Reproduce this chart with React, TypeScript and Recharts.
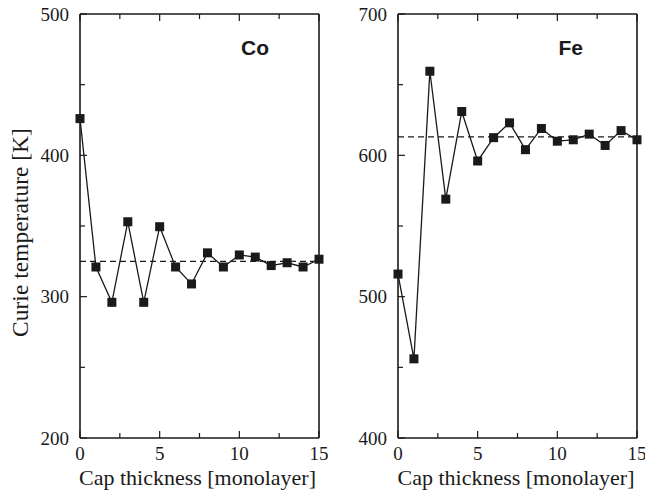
import React from "react";
import { LineChart, Line, XAxis, YAxis, ReferenceLine } from "recharts";

const thickness = [0, 1, 2, 3, 4, 5, 6, 7, 8, 9, 10, 11, 12, 13, 14, 15];
const coTc = [426, 321, 296, 353, 296, 349.5, 321, 309, 331, 321, 329.5, 328, 322, 324, 321, 326.5];
const feTc = [516, 456, 659.5, 569, 631, 596, 612.5, 623, 604, 619, 610, 611, 615, 607, 617.5, 611];
const coBulk = 325;
const feBulk = 613;

const xTicks = [0, 2.5, 5, 7.5, 10, 12.5, 15];
const xLabels = [0, 5, 10, 15];
const coTicks = [200, 250, 300, 350, 400, 450, 500];
const coLabels = [200, 300, 400, 500];
const feTicks = [400, 450, 500, 550, 600, 650, 700];
const feLabels = [400, 500, 600, 700];

const xTitle = "Cap thickness [monolayer]";
const yTitle = "Curie temperature [K]";

const INK = "#1a1a1a";
const SERIF = "'Liberation Serif', 'DejaVu Serif', serif";
const SANS = "'Liberation Sans', Arial, sans-serif";

const makeBottomTick = (labels: number[]) => (props: any) => {
  const { x, y, payload } = props;
  const v = payload.value;
  const major = labels.includes(v);
  return (
    <g>
      <line x1={x} x2={x} y1={y} y2={y - (major ? 7 : 5)} stroke={INK} strokeWidth={1.2} />
      {major && (
        <text x={x} y={y + 22} textAnchor="middle" fontFamily={SERIF} fontSize={19} fill={INK}>
          {v}
        </text>
      )}
    </g>
  );
};

const makeTopTick = (labels: number[]) => (props: any) => {
  const { x, y, payload } = props;
  const major = labels.includes(payload.value);
  return <line x1={x} x2={x} y1={y} y2={y + (major ? 7 : 5)} stroke={INK} strokeWidth={1.2} />;
};

const makeLeftTick = (labels: number[]) => (props: any) => {
  const { x, y, payload } = props;
  const v = payload.value;
  const major = labels.includes(v);
  return (
    <g>
      <line x1={x} x2={x + (major ? 7 : 5)} y1={y} y2={y} stroke={INK} strokeWidth={1.2} />
      {major && (
        <text x={x - 11} y={y + 6.5} textAnchor="end" fontFamily={SERIF} fontSize={19} fill={INK}>
          {v}
        </text>
      )}
    </g>
  );
};

const makeRightTick = (labels: number[]) => (props: any) => {
  const { x, y, payload } = props;
  const major = labels.includes(payload.value);
  return <line x1={x} x2={x - (major ? 7 : 5)} y1={y} y2={y} stroke={INK} strokeWidth={1.2} />;
};

const SquareDot = (props: any) => {
  const { cx, cy } = props;
  if (cx == null || cy == null) return null;
  return <rect x={cx - 4.5} y={cy - 4.5} width={9} height={9} fill={INK} />;
};

type PanelProps = {
  values: number[];
  bulk: number;
  yTicks: number[];
  yLabels: number[];
  width: number;
  margin: { top: number; right: number; bottom: number; left: number };
};

const Panel = ({ values, bulk, yTicks, yLabels, width, margin }: PanelProps) => {
  const data = thickness.map((t, i) => ({ t, v: values[i] }));
  const domain: [number, number] = [yTicks[0], yTicks[yTicks.length - 1]];
  const axisLine = { stroke: INK, strokeWidth: 1.6 };
  return (
    <LineChart width={width} height={494} data={data} margin={margin}>
      <XAxis
        dataKey="t"
        type="number"
        domain={[0, 15]}
        ticks={xTicks}
        interval={0}
        height={1}
        tickSize={0}
        tickMargin={0}
        tickLine={false}
        axisLine={axisLine}
        tick={makeBottomTick(xLabels)}
      />
      <XAxis
        xAxisId="top"
        orientation="top"
        dataKey="t"
        type="number"
        domain={[0, 15]}
        ticks={xTicks}
        interval={0}
        height={1}
        tickSize={0}
        tickMargin={0}
        tickLine={false}
        axisLine={axisLine}
        tick={makeTopTick(xLabels)}
      />
      <YAxis
        type="number"
        domain={domain}
        ticks={yTicks}
        interval={0}
        width={1}
        tickSize={0}
        tickMargin={0}
        tickLine={false}
        axisLine={axisLine}
        tick={makeLeftTick(yLabels)}
      />
      <YAxis
        yAxisId="right"
        orientation="right"
        type="number"
        domain={domain}
        ticks={yTicks}
        interval={0}
        width={1}
        tickSize={0}
        tickMargin={0}
        tickLine={false}
        axisLine={axisLine}
        tick={makeRightTick(yLabels)}
      />
      <ReferenceLine y={bulk} stroke={INK} strokeWidth={1.2} strokeDasharray="6 4" />
      <Line
        dataKey="v"
        stroke={INK}
        strokeWidth={1.3}
        dot={<SquareDot />}
        activeDot={false}
        isAnimationActive={false}
      />
    </LineChart>
  );
};

export default function App() {
  return (
    <div style={{ position: "absolute", left: 0, top: 0, width: 645, height: 494, background: "#fff" }}>
      <div style={{ position: "absolute", left: 0, top: 0 }}>
        <Panel
          values={coTc}
          bulk={coBulk}
          yTicks={coTicks}
          yLabels={coLabels}
          width={330}
          margin={{ top: 13, right: 10, bottom: 55, left: 79 }}
        />
      </div>
      <div style={{ position: "absolute", left: 330, top: 0 }}>
        <Panel
          values={feTc}
          bulk={feBulk}
          yTicks={feTicks}
          yLabels={feLabels}
          width={315}
          margin={{ top: 13, right: 7, bottom: 55, left: 67 }}
        />
      </div>
      <svg
        width={645}
        height={494}
        style={{ position: "absolute", left: 0, top: 0, pointerEvents: "none" }}
      >
        <text
          x={28}
          y={232.5}
          transform="rotate(-90, 28, 232.5)"
          textAnchor="middle"
          fontFamily={SERIF}
          fontSize={23.5}
          fill={INK}
        >
          {yTitle}
        </text>
        <text x={197.5} y={485} textAnchor="middle" fontFamily={SERIF} fontSize={22} fill={INK}>
          {xTitle}
        </text>
        <text x={516} y={485} textAnchor="middle" fontFamily={SERIF} fontSize={22} fill={INK}>
          {xTitle}
        </text>
        <text x={241} y={55} fontFamily={SANS} fontWeight="bold" fontSize={21} fill={INK}>
          Co
        </text>
        <text x={558.5} y={55} fontFamily={SANS} fontWeight="bold" fontSize={21} fill={INK}>
          Fe
        </text>
      </svg>
    </div>
  );
}
